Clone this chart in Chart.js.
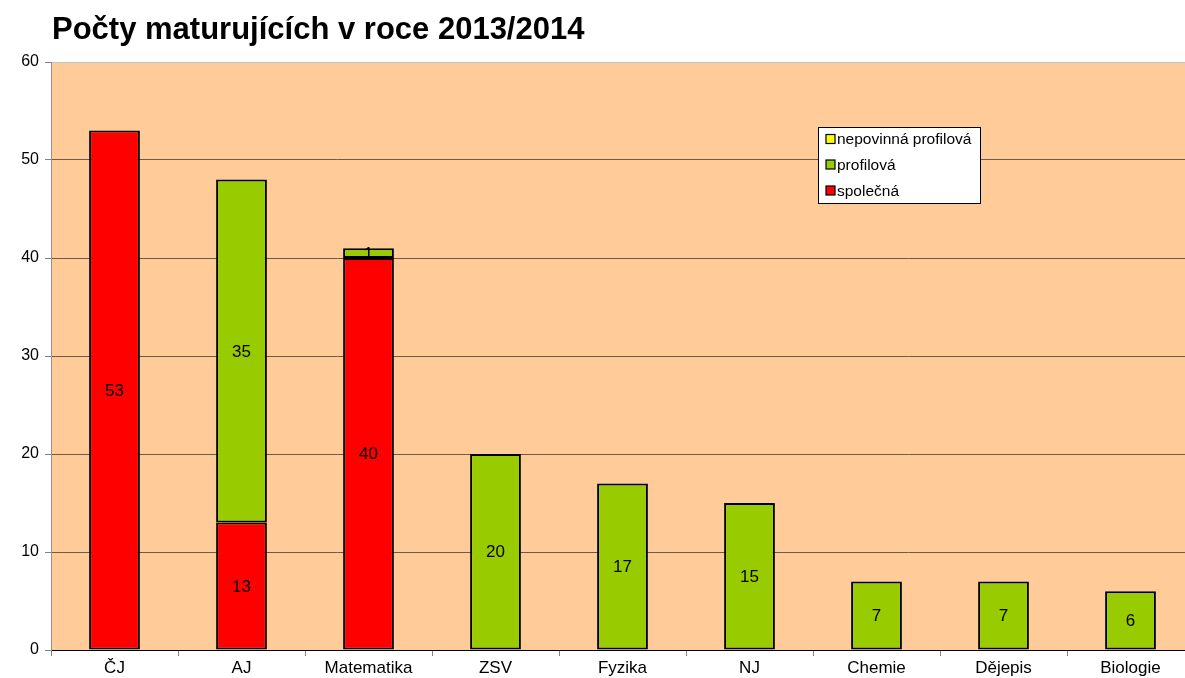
<!DOCTYPE html>
<html>
<head>
<meta charset="utf-8">
<script src="https://cdn.jsdelivr.net/npm/chart.js@4/dist/chart.umd.min.js"></script>
<style>
html,body{margin:0;padding:0;background:#fff;overflow:hidden;width:1185px;height:678px;}
#wrap{position:absolute;left:0;top:0;width:1200px;height:678px;}
</style>
</head>
<body>
<div id="wrap"><canvas id="c" width="1200" height="678"></canvas></div>
<script>
const titleText = 'Počty maturujících v roce 2013/2014';
const categories = ['ČJ','AJ','Matematika','ZSV','Fyzika','NJ','Chemie','Dějepis','Biologie'];
const spolecna = [53, 13, 40, null, null, null, null, null, null];
const profilova = [null, 35, 1, 20, 17, 15, 7, 7, 6];
const nepovinna = [null, null, null, null, null, null, null, null, null];
const seriesNames = ['společná', 'profilová', 'nepovinná profilová'];
const yTicks = [0, 10, 20, 30, 40, 50, 60];

const FONT = "'Liberation Sans', Arial, sans-serif";

const bgPlugin = {
  id: 'bg',
  beforeDraw(chart) {
    const {ctx, chartArea: a} = chart;
    ctx.save();
    ctx.fillStyle = '#FFCC99';
    ctx.fillRect(a.left, a.top, a.right - a.left, a.bottom - a.top);
    ctx.restore();
  }
};

const titlePlugin = {
  id: 'ttl',
  afterDraw(chart) {
    const ctx = chart.ctx;
    ctx.save();
    ctx.fillStyle = '#000';
    ctx.font = 'bold 31px ' + FONT;
    ctx.textBaseline = 'alphabetic';
    ctx.textAlign = 'left';
    ctx.fillText(titleText, 52, 39);
    ctx.restore();
  }
};

const labelPlugin = {
  id: 'lbl',
  afterDatasetsDraw(chart) {
    const ctx = chart.ctx;
    ctx.save();
    ctx.fillStyle = '#000';
    ctx.font = '17px ' + FONT;
    ctx.textAlign = 'center';
    ctx.textBaseline = 'middle';
    chart.data.datasets.forEach((ds, i) => {
      const meta = chart.getDatasetMeta(i);
      meta.data.forEach((el, j) => {
        const v = ds.data[j];
        if (v === null || v === undefined) return;
        const p = el.getProps(['x','y','base'], true);
        ctx.fillText(String(v), p.x, (p.y + p.base) / 2 + 1);
      });
    });
    ctx.restore();
  }
};

const legendPlugin = {
  id: 'lgd',
  afterDraw(chart) {
    const ctx = chart.ctx;
    const x0 = 818, y0 = 127, w = 162, h = 76;
    ctx.save();
    ctx.fillStyle = '#fff';
    ctx.fillRect(x0, y0, w, h);
    ctx.strokeStyle = '#000';
    ctx.lineWidth = 1;
    ctx.strokeRect(x0 + 0.5, y0 + 0.5, w, h);
    const ds = chart.data.datasets.slice().reverse();
    const rows = [139, 164.5, 190.5];
    ctx.font = '15.5px ' + FONT;
    ctx.textBaseline = 'middle';
    ctx.textAlign = 'left';
    ds.forEach((d, i) => {
      const y = rows[i];
      ctx.fillStyle = d.backgroundColor;
      ctx.fillRect(826, y - 4.5, 9, 9);
      ctx.strokeStyle = '#000';
      ctx.lineWidth = 1.2;
      ctx.strokeRect(826, y - 4.5, 9, 9);
      ctx.fillStyle = '#000';
      ctx.fillText(d.label, 837, y + 1);
    });
    ctx.restore();
  }
};

new Chart(document.getElementById('c'), {
  type: 'bar',
  data: {
    labels: categories,
    datasets: [
      {label: seriesNames[0], data: spolecna, backgroundColor: '#FF0000', borderColor: '#000', borderWidth: 2, borderSkipped: false, categoryPercentage: 1, barPercentage: 0.4},
      {label: seriesNames[1], data: profilova, backgroundColor: '#99CC00', borderColor: '#000', borderWidth: 2, borderSkipped: false, categoryPercentage: 1, barPercentage: 0.4},
      {label: seriesNames[2], data: nepovinna, backgroundColor: '#FFFF00', borderColor: '#000', borderWidth: 2, borderSkipped: false, categoryPercentage: 1, barPercentage: 0.4}
    ]
  },
  options: {
    responsive: false,
    animation: false,
    events: [],
    layout: {padding: {top: 62, right: 6, left: 0, bottom: 0}},
    plugins: {legend: {display: false}, title: {display: false}, tooltip: {enabled: false}},
    scales: {
      x: {
        stacked: true,
        grid: {display: true, drawOnChartArea: false, drawTicks: true, tickLength: 6, color: '#808080', offset: true},
        border: {display: true, color: '#000', width: 1},
        ticks: {color: '#000', font: {family: FONT, size: 17}, padding: 2, maxRotation: 0, autoSkip: false},
        afterFit(s) { s.height = 28; }
      },
      y: {
        stacked: true,
        min: 0, max: 60,
        afterBuildTicks(s) { s.ticks = yTicks.map(v => ({value: v})); },
        grid: {
          color: (c) => (c.tick && c.tick.value === 60) ? '#b4c8c8' : '#6b5a48',
          tickColor: '#808080',
          tickLength: 6, drawTicks: true
        },
        border: {display: true, color: '#909090', width: 1},
        ticks: {color: '#000', font: {family: FONT, size: 16}, padding: 6},
        afterFit(s) { s.width = 51; }
      }
    }
  },
  plugins: [bgPlugin, labelPlugin, titlePlugin, legendPlugin]
});
</script>
</body>
</html>
